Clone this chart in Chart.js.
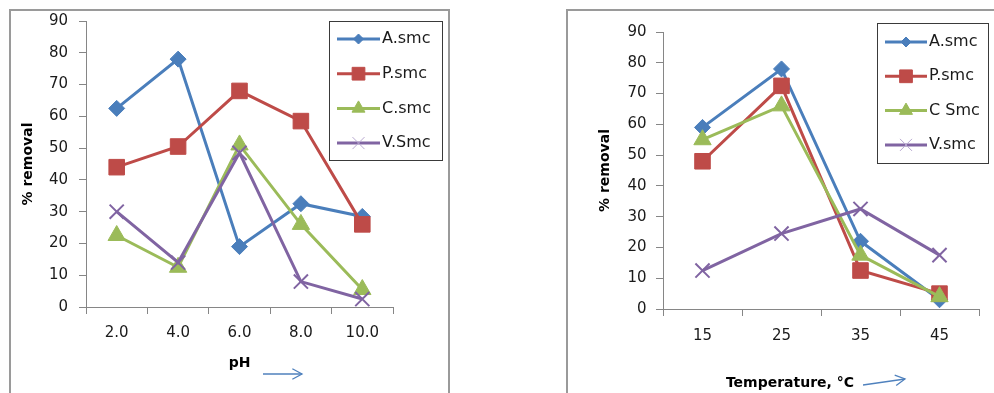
<!DOCTYPE html>
<html><head><meta charset="utf-8">
<script src="https://cdn.jsdelivr.net/npm/chart.js@4/dist/chart.umd.min.js"></script>
<style>
html,body{margin:0;padding:0;background:#fff;width:994px;height:393px;overflow:hidden;position:relative}
.frame{position:absolute;border:2px solid #9a9a9a;box-sizing:border-box}
canvas{position:absolute;top:0}
</style></head><body>
<div class="frame" style="left:9px;top:9px;width:441px;height:420px"></div>
<div class="frame" style="left:566px;top:9px;width:460px;height:420px"></div>
<canvas id="c1" width="460" height="393" style="left:0"></canvas>
<canvas id="c2" width="434" height="393" style="left:560px"></canvas>
<script>
// ---- data ----
const phLabels = ['2.0', '4.0', '6.0', '8.0', '10.0'];
const phA = [62.5, 78, 19, 32.5, 28.5];
const phP = [44, 50.5, 68, 58.5, 26];
const phC = [22.5, 12.5, 51, 26, 5.5];
const phV = [30, 14, 48.5, 8, 2.5];
const phNames = ['A.smc', 'P.smc', 'C.smc', 'V.Smc'];

const tempLabels = ['15', '25', '35', '45'];
const tA = [59, 78, 22, 3];
const tP = [48, 72.5, 12.5, 5];
const tC = [55, 66, 17.5, 4];
const tV = [12.5, 24.5, 32.5, 17.5];
const tempNames = ['A.smc', 'P.smc', 'C Smc', 'V.smc'];

const yMin = 0, yMax = 90, yStep = 10;
const yTitle = '% removal';
const phTitle = 'pH';
const tempTitle = 'Temperature, \u00B0C';

// ---- styling ----
const COLORS = ['#4A7EBB', '#BE4B48', '#9BBB59', '#8064A2'];
const STYLES = ['rectRot', 'rect', 'triangle', 'crossRot'];
const RADII = [8, 11, 10, 10];
const LEG_RADII = [5, 9, 7.5, 8.5];
const FONT = 'DejaVu Sans';

function makeDatasets(names, series) {
  return series.map((d, i) => ({
    label: names[i],
    data: d,
    borderColor: COLORS[i],
    backgroundColor: COLORS[i],
    borderWidth: 3,
    pointStyle: STYLES[i],
    pointRadius: RADII[i],
    pointHoverRadius: RADII[i],
    pointBackgroundColor: COLORS[i],
    pointBorderColor: COLORS[i],
    pointBorderWidth: i === 3 ? 2 : 1,
    tension: 0,
    order: 4 - i
  }));
}

function drawMarker(ctx, style, x, y, r, fill, stroke, bw) {
  ctx.save();
  ctx.fillStyle = fill; ctx.strokeStyle = stroke; ctx.lineWidth = bw;
  ctx.beginPath();
  if (style === 'rectRot') {
    ctx.moveTo(x, y - r); ctx.lineTo(x + r, y); ctx.lineTo(x, y + r); ctx.lineTo(x - r, y); ctx.closePath();
    ctx.fill(); ctx.stroke();
  } else if (style === 'rect') {
    const s = r * Math.SQRT1_2;
    ctx.rect(x - s, y - s, 2 * s, 2 * s); ctx.fill(); ctx.stroke();
  } else if (style === 'triangle') {
    const h = r * 0.866;
    ctx.moveTo(x, y - r); ctx.lineTo(x + h, y + r / 2); ctx.lineTo(x - h, y + r / 2); ctx.closePath();
    ctx.fill(); ctx.stroke();
  } else {
    const s = r * Math.SQRT1_2;
    ctx.moveTo(x - s, y - s); ctx.lineTo(x + s, y + s);
    ctx.moveTo(x + s, y - s); ctx.lineTo(x - s, y + s);
    ctx.stroke();
  }
  ctx.restore();
}

const boxLegend = {
  id: 'boxLegend',
  afterDraw(chart, args, o) {
    const ctx = chart.ctx;
    ctx.save();
    ctx.fillStyle = '#ffffff';
    ctx.fillRect(o.x, o.y, o.w, o.h);
    ctx.strokeStyle = '#3a3a3a'; ctx.lineWidth = 1;
    ctx.strokeRect(o.x + 0.5, o.y + 0.5, o.w, o.h);
    chart.data.datasets.forEach((ds, i) => {
      const y = o.y + o.first + i * o.gap;
      ctx.strokeStyle = ds.borderColor; ctx.lineWidth = 3;
      ctx.beginPath(); ctx.moveTo(o.x + o.l1, y); ctx.lineTo(o.x + o.l2, y); ctx.stroke();
      const mx = o.x + (o.l1 + o.l2) / 2;
      if (ds.pointStyle === 'crossRot') {
        drawMarker(ctx, ds.pointStyle, mx, y, LEG_RADII[i], '#b8a8d0', '#b8a8d0', 1);
      } else {
        drawMarker(ctx, ds.pointStyle, mx, y, LEG_RADII[i], ds.pointBackgroundColor, ds.pointBorderColor, 1);
      }
      ctx.fillStyle = '#1a1a1a';
      ctx.font = '16px "' + FONT + '"';
      ctx.textBaseline = 'middle'; ctx.textAlign = 'left';
      ctx.fillText(ds.label, o.x + o.tx, y);
    });
    ctx.restore();
  }
};

const arrowDeco = {
  id: 'arrowDeco',
  afterDraw(chart, args, o) {
    const ctx = chart.ctx;
    ctx.save();
    if (o.title) {
      ctx.fillStyle = '#000';
      ctx.font = 'bold 14px "' + FONT + '"';
      ctx.textAlign = 'center'; ctx.textBaseline = 'middle';
      ctx.fillText(o.title, o.tx, o.ty);
    }
    ctx.strokeStyle = '#4F81BD'; ctx.lineWidth = 1.3;
    ctx.beginPath(); ctx.moveTo(o.x1, o.y1); ctx.lineTo(o.x2, o.y2); ctx.stroke();
    const a = Math.atan2(o.y2 - o.y1, o.x2 - o.x1);
    const L = 11, h = 0.5;
    ctx.beginPath();
    ctx.moveTo(o.x2 - L * Math.cos(a - h), o.y2 - L * Math.sin(a - h));
    ctx.lineTo(o.x2, o.y2);
    ctx.lineTo(o.x2 - L * Math.cos(a + h), o.y2 - L * Math.sin(a + h));
    ctx.stroke();
    ctx.restore();
  }
};

function makeChart(id, labels, names, series, geo) {
  return new Chart(document.getElementById(id), {
    type: 'line',
    data: { labels: labels, datasets: makeDatasets(names, series) },
    plugins: [boxLegend, arrowDeco],
    options: {
      responsive: false,
      animation: false,
      events: [],
      layout: { padding: { left: 0, top: geo.top, right: geo.right, bottom: 0 } },
      plugins: {
        legend: { display: false },
        tooltip: { enabled: false },
        boxLegend: geo.legend,
        arrowDeco: geo.arrow
      },
      scales: {
        x: {
          offset: true,
          grid: { offset: true, drawOnChartArea: false, drawTicks: true, tickLength: 7, color: '#868686' },
          border: { display: true, color: '#868686', width: 1 },
          ticks: { color: '#1a1a1a', font: { family: FONT, size: 15 }, padding: geo.xpad, maxRotation: 0 },
          title: geo.xTitle ? { display: true, text: geo.xTitle, color: '#000', font: { family: FONT, size: 14, weight: 'bold' }, padding: { top: 0, bottom: geo.xTitlePad } } : { display: false },
          afterFit(s) { s.height = geo.xh; }
        },
        y: {
          min: yMin, max: yMax,
          ticks: { stepSize: yStep, color: '#1a1a1a', font: { family: FONT, size: 15 }, padding: geo.ypad },
          grid: { drawOnChartArea: false, drawTicks: true, tickLength: 7, color: '#868686' },
          border: { display: true, color: '#868686', width: 1 },
          title: { display: true, text: yTitle, color: '#000', font: { family: FONT, size: 14, weight: 'bold' }, padding: { top: geo.yTitlePad, bottom: 0 } },
          afterFit(s) { s.width = geo.yw; }
        }
      }
    }
  });
}

makeChart('c1', phLabels, phNames, [phA, phP, phC, phV], {
  top: 21, right: 67, xh: 86, yw: 86, xpad: 10, ypad: 11,
  xTitle: phTitle, xTitlePad: 21.5, yTitlePad: 19.6,
  legend: { x: 329, y: 21, w: 113, h: 139, l1: 8, l2: 51, tx: 53, first: 18, gap: 34.7 },
  arrow: { x1: 263, y1: 374, x2: 302, y2: 374 }
});

makeChart('c2', tempLabels, tempNames, [tA, tP, tC, tV], {
  top: 32, right: 15, xh: 84, yw: 103, xpad: 11, ypad: 9.5,
  xTitle: null, yTitlePad: 36.6,
  legend: { x: 317, y: 23, w: 111, h: 140, l1: 8, l2: 50, tx: 52, first: 19, gap: 34.3 },
  arrow: { title: tempTitle, tx: 230, ty: 383, x1: 303, y1: 385, x2: 345, y2: 379 }
});
</script>
</body></html>
